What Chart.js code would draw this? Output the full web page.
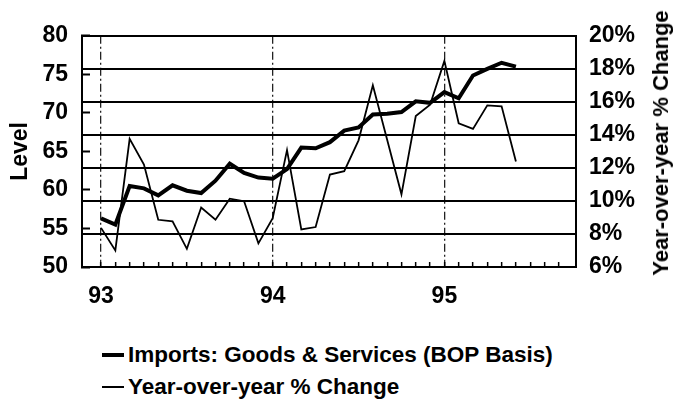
<!DOCTYPE html>
<html>
<head>
<meta charset="utf-8">
<style>
  body { margin: 0; background: #fff; }
  #wrap { position: relative; width: 675px; height: 403px; font-family: 'Liberation Sans', Arial, sans-serif; color: #000; }
  #box { position: absolute; left: 0; top: 0; width: 675px; height: 335px; }
  .legend { position: absolute; left: 102px; top: 339px; font-size: 22.5px; font-weight: bold; }
  .legend div { display: flex; align-items: center; height: 32px; white-space: nowrap; }
  .legend .mark { display: inline-block; width: 22px; background: #000; margin-right: 4px; }
  #rtitle { position: absolute; left: 661px; top: 143px; transform: translate(-50%, -50%) rotate(-90deg); white-space: nowrap; font-size: 22px; font-weight: bold; }
</style>
</head>
<body>
<div id="wrap">
  <div id="box"><canvas id="importsChart"></canvas></div>
  <div id="rtitle">Year-over-year % Change</div>
  <div class="legend">
    <div><span class="mark" style="height:4px"></span>Imports: Goods &amp; Services (BOP Basis)</div>
    <div><span class="mark" style="height:2px"></span>Year-over-year % Change</div>
  </div>
</div>
<script src="https://cdn.jsdelivr.net/npm/chart.js"></script>
<script>
// months since Jan 1993
const monthIdx = [0, 1, 2, 3, 4, 5, 6, 7, 8, 9, 10, 11, 12, 13, 14, 15, 16, 17, 18, 19, 20, 21, 22, 23, 24, 25, 26, 27, 28, 29];
// imports level (left axis)
const importsLevel = [56.3, 55.5, 60.5, 60.2, 59.3, 60.6, 59.9, 59.6, 61.2, 63.4, 62.2, 61.6, 61.45, 62.7, 65.5, 65.4, 66.2, 67.7, 68.1, 69.8, 69.9, 70.1, 71.5, 71.3, 72.7, 71.9, 74.85, 75.7, 76.5, 76.0];
// year-over-year % change (right axis)
const yoyChange = [8.37, 7.0, 13.76, 12.2, 8.86, 8.76, 7.1, 9.6, 8.86, 10.14, 9.98, 7.43, 8.96, 13.08, 8.28, 8.42, 11.6, 11.8, 13.67, 17.0, 13.7, 10.4, 15.14, 15.83, 18.48, 14.7, 14.36, 15.79, 15.73, 12.39];
const yearTickPos = [0, 12, 24];
const yearTickText = ['93', '94', '95'];

const tickFont = { family: "'Liberation Sans', Arial, sans-serif", size: 23, weight: 'bold' };
const clear = 'rgba(0,0,0,0)';

document.addEventListener('DOMContentLoaded', function() {
    const ctx = document.getElementById('importsChart').getContext('2d');
    new Chart(ctx, {
        type: 'line',
        data: {
            datasets: [{
                label: 'Imports: Goods & Services (BOP Basis)',
                data: monthIdx.map((m, i) => ({ x: m, y: importsLevel[i] })),
                yAxisID: 'y',
                borderColor: '#000',
                borderWidth: 4,
                pointRadius: 0,
                tension: 0
            }, {
                label: 'Year-over-year % Change',
                data: monthIdx.map((m, i) => ({ x: m, y: yoyChange[i] })),
                yAxisID: 'y1',
                borderColor: '#000',
                borderWidth: 1.8,
                pointRadius: 0,
                tension: 0
            }]
        },
        options: {
            responsive: true,
            maintainAspectRatio: false,
            animation: false,
            layout: { padding: { top: 29, left: 0, right: 0, bottom: 0 } },
            plugins: { legend: { display: false }, tooltip: { enabled: false } },
            scales: {
                x: {
                    type: 'linear',
                    position: 'bottom',
                    min: -1.33,
                    max: 33.2,
                    afterFit: s => { s.height = 68; },
                    ticks: {
                        stepSize: 1,
                        autoSkip: false,
                        includeBounds: false,
                        maxRotation: 0,
                        padding: 21,
                        color: '#000',
                        font: tickFont,
                        callback: v => {
                            const k = yearTickPos.indexOf(v);
                            return k >= 0 ? yearTickText[k] : '';
                        }
                    },
                    grid: {
                        color: c => (c.tick && yearTickPos.includes(c.tick.value)) ? '#222' : clear,
                        lineWidth: 1.3,
                        drawTicks: true,
                        tickLength: -5,
                        tickWidth: 1.5,
                        tickColor: c => (c.tick && c.tick.value >= 0 && c.tick.value <= 32) ? '#000' : clear
                    },
                    border: { color: '#000', width: 2, dash: [8, 3, 2, 3] }
                },
                y: {
                    position: 'left',
                    min: 50,
                    max: 80,
                    afterFit: s => { s.width = 82; },
                    ticks: { stepSize: 5, padding: 22, color: '#000', font: tickFont },
                    grid: { drawOnChartArea: false, tickLength: -8, tickColor: '#000', tickWidth: 2 },
                    border: { color: '#000', width: 2 },
                    title: { display: true, text: 'Level', color: '#000', font: tickFont, padding: { top: 7, bottom: 0 } }
                },
                y1: {
                    position: 'right',
                    min: 6,
                    max: 20,
                    afterFit: s => { s.width = 99; },
                    ticks: { stepSize: 2, padding: 13, color: '#000', font: tickFont, callback: v => v + '%' },
                    grid: { color: '#000', lineWidth: 2, drawTicks: false },
                    border: { color: '#000', width: 2 }
                }
            }
        }
    });
});
</script>
</body>
</html>
